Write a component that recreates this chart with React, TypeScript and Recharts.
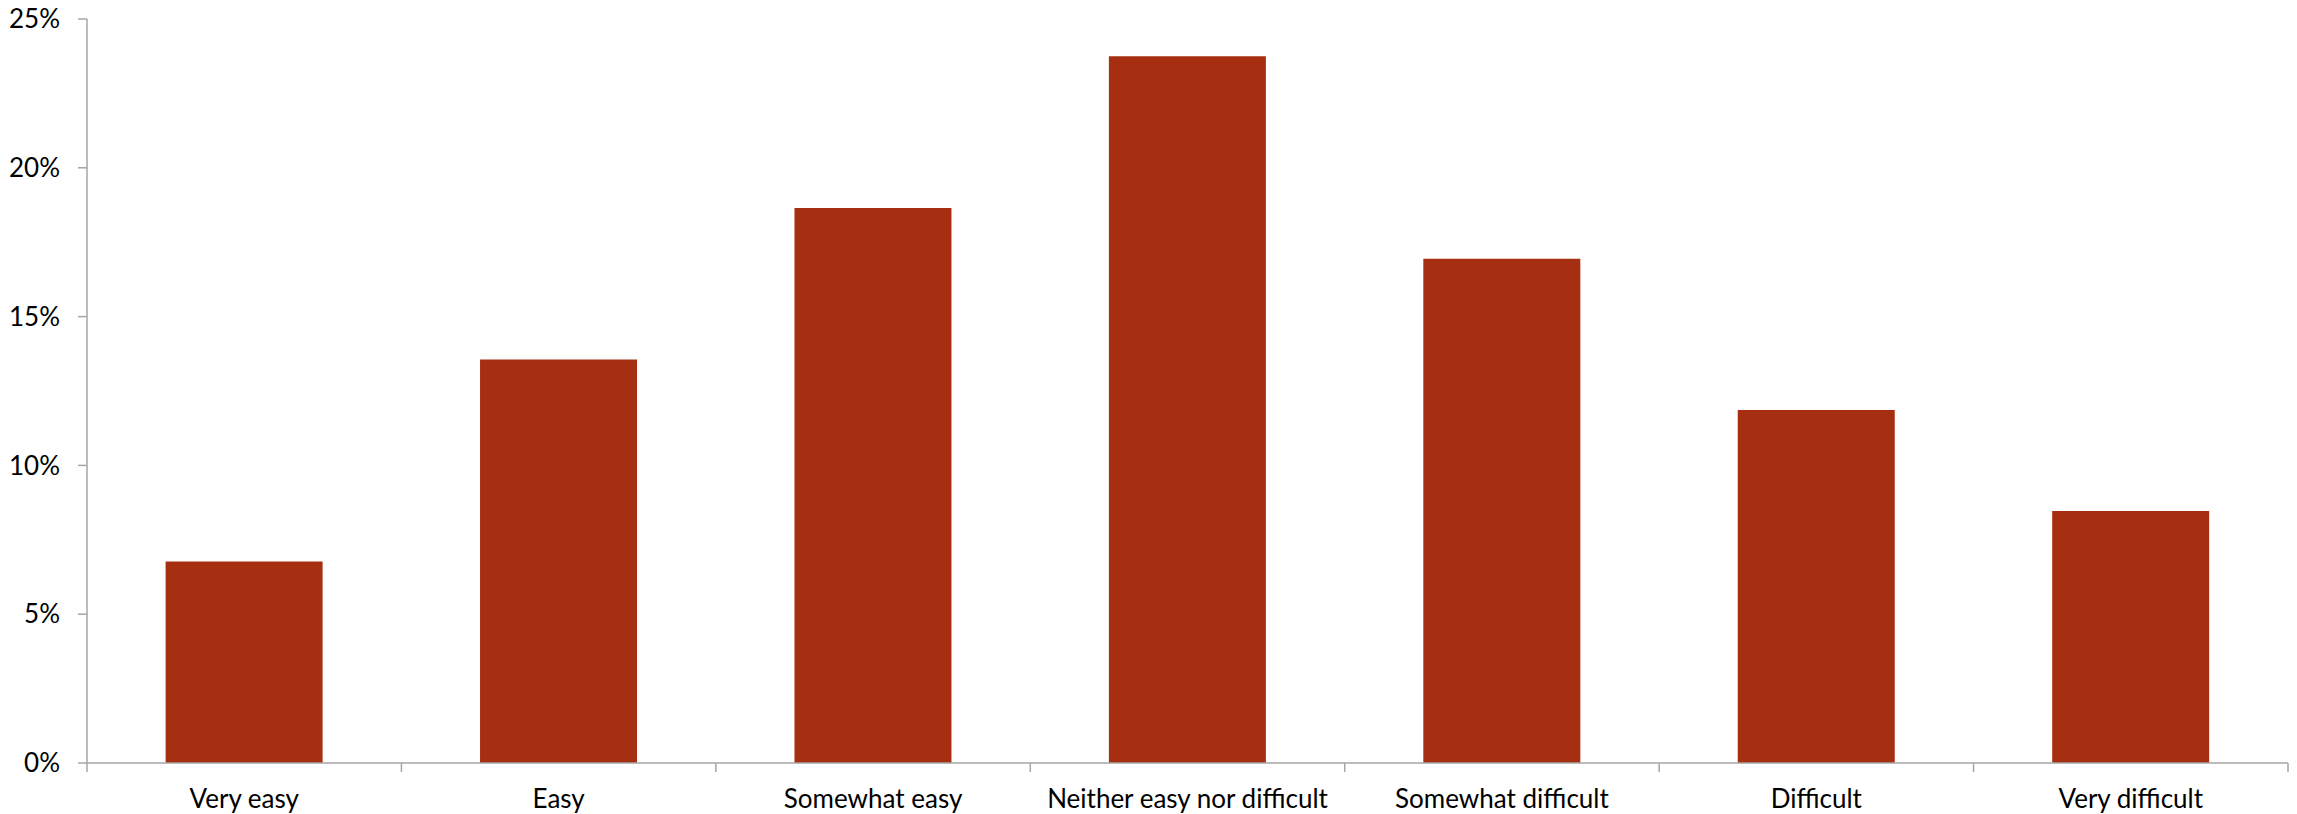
import React from 'react';
import { BarChart, Bar, XAxis, YAxis } from 'recharts';

const categories = [
    'Very easy',
    'Easy',
    'Somewhat easy',
    'Neither easy nor difficult',
    'Somewhat difficult',
    'Difficult',
    'Very difficult',
];
const shares = [6.77, 13.56, 18.65, 23.75, 16.94, 11.86, 8.47];
const yTicks = [0, 5, 10, 15, 20, 25];

const CHART_W = 2297;
const CHART_H = 814;
const Y_AXIS_W = 87;
const MARGIN = { top: 19, right: 9, bottom: 0, left: 0 };
const AXIS_COLOR = '#a6a6a6';
const BAR_COLOR = '#a62f11';
const FONT = 'Lato, "Open Sans", sans-serif';
const TICK_LEN = 9;

const data = categories.map((name, i) => ({ name, value: shares[i] }));
const band = (CHART_W - MARGIN.right - Y_AXIS_W) / categories.length;

const CategoryTick = (props: any) => {
    const { x, y, payload, index } = props;
    const top = y - TICK_LEN;
    return (
        <g>
            <line x1={x - band / 2} x2={x - band / 2} y1={top} y2={top + TICK_LEN} stroke={AXIS_COLOR} strokeWidth={1.5} />
            {index === categories.length - 1 && (
                <line x1={x + band / 2} x2={x + band / 2} y1={top} y2={top + TICK_LEN} stroke={AXIS_COLOR} strokeWidth={1.5} />
            )}
            <text x={x} y={top + 45} textAnchor="middle" fill="#000" fontSize={26} fontFamily={FONT}>
                {payload.value}
            </text>
        </g>
    );
};

const App: React.FC = () => {
    return (
        <div style={{ position: 'absolute', left: 0, top: 0, background: '#fff' }}>
            <BarChart width={CHART_W} height={CHART_H} data={data} margin={MARGIN} barCategoryGap="25%">
                <XAxis
                    dataKey="name"
                    height={51}
                    interval={0}
                    tickLine={false}
                    tickSize={TICK_LEN}
                    tickMargin={0}
                    axisLine={{ stroke: AXIS_COLOR, strokeWidth: 1.5 }}
                    tick={<CategoryTick />}
                />
                <YAxis
                    width={Y_AXIS_W}
                    domain={[0, 25]}
                    ticks={yTicks}
                    interval={0}
                    tickFormatter={(v: number) => `${v}%`}
                    tickSize={TICK_LEN}
                    tickMargin={18}
                    axisLine={{ stroke: AXIS_COLOR, strokeWidth: 1.5 }}
                    tickLine={{ stroke: AXIS_COLOR, strokeWidth: 1.5 }}
                    tick={{ fill: '#000', fontSize: 26, fontFamily: FONT }}
                />
                <Bar dataKey="value" fill={BAR_COLOR} isAnimationActive={false} />
            </BarChart>
        </div>
    );
};

export default App;
